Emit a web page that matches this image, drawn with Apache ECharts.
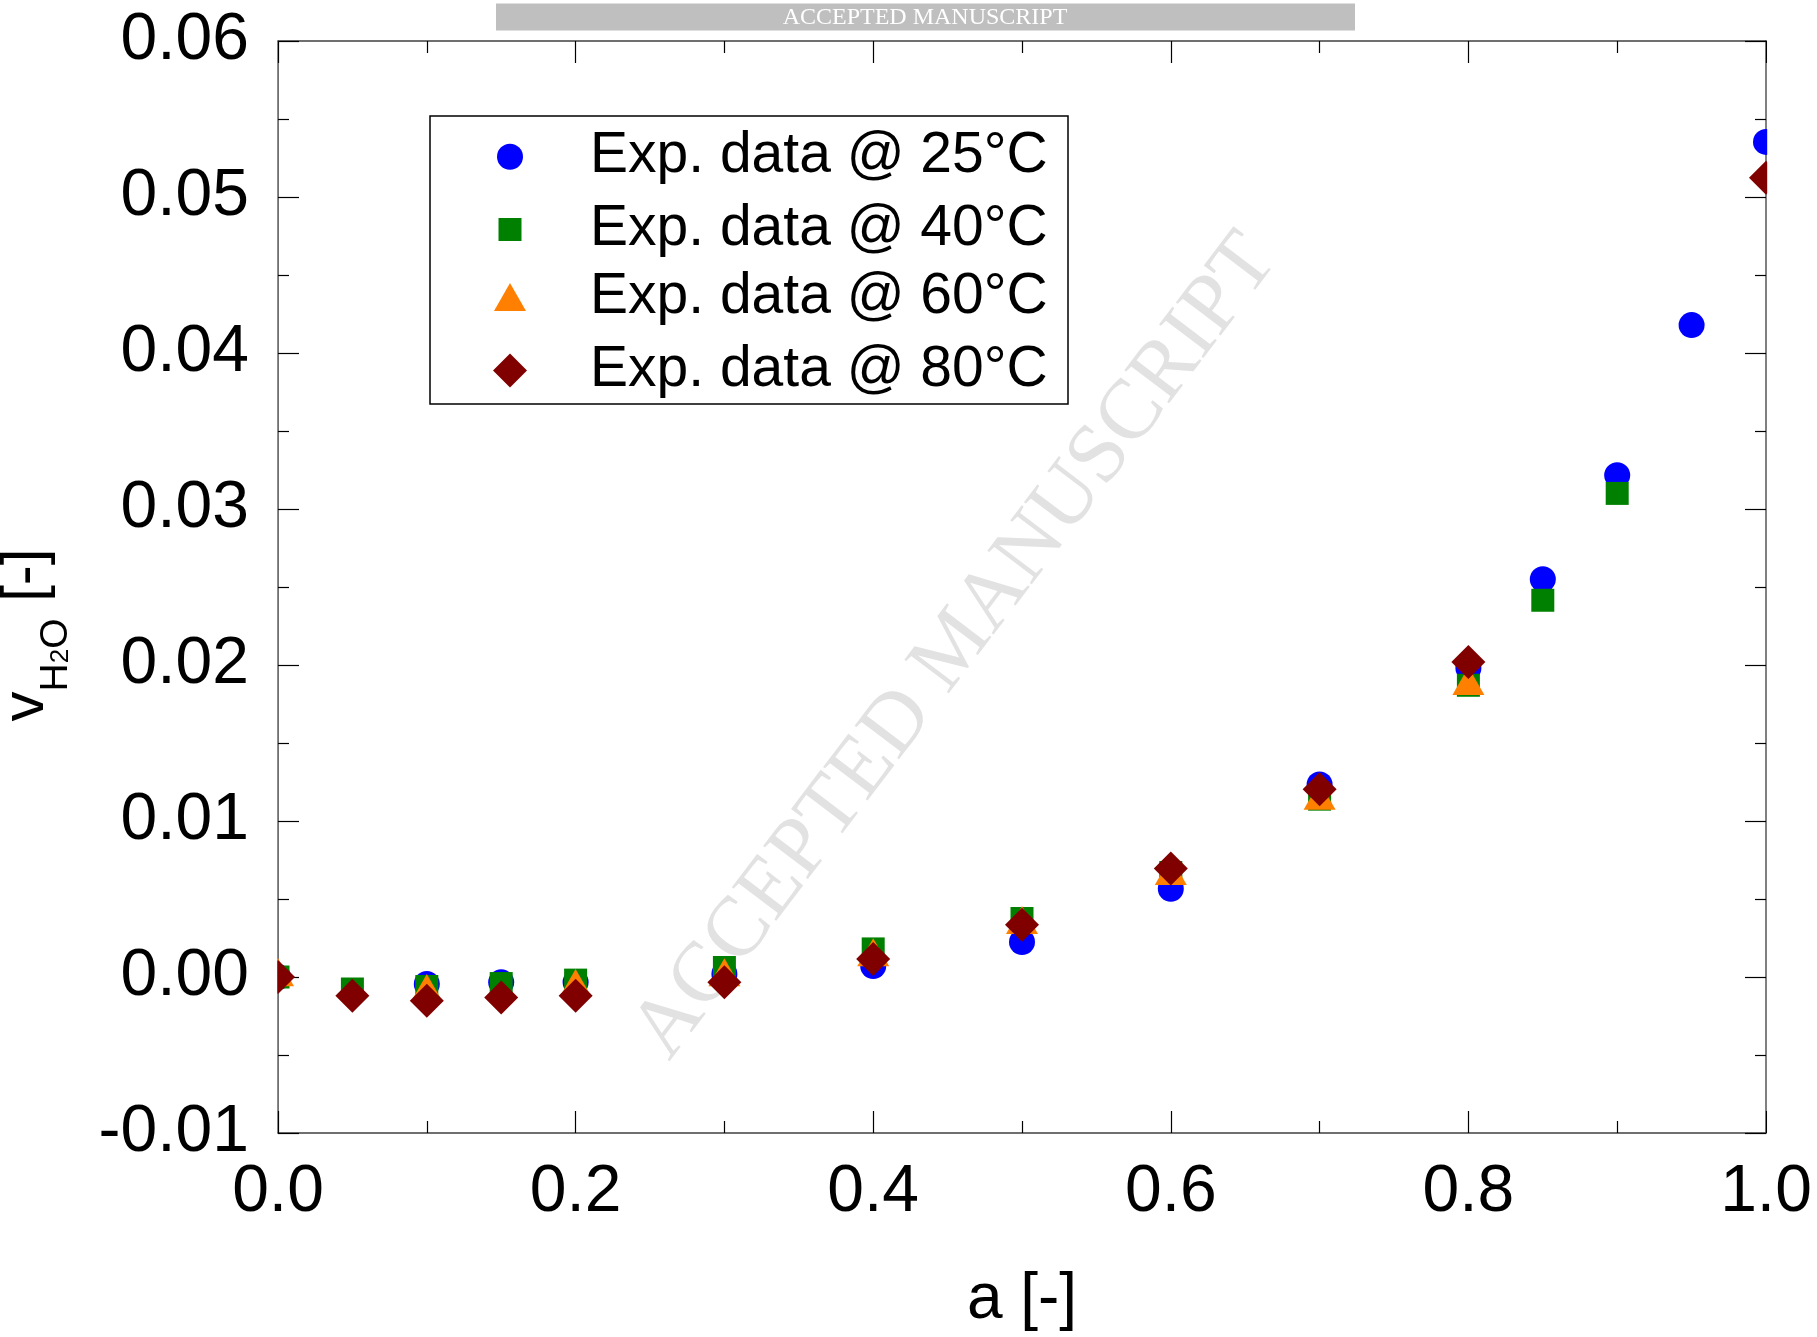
<!DOCTYPE html>
<html>
<head>
<meta charset="utf-8">
<script src="https://cdn.jsdelivr.net/npm/echarts@6/dist/echarts.min.js"></script>
<style>
html,body{margin:0;padding:0;background:#fff;}
#chart{width:1817px;height:1337px;}
</style>
</head>
<body>
<div id="chart"></div>
<script>
// ---- data ----
const seriesNames = ['Exp. data @ 25°C', 'Exp. data @ 40°C', 'Exp. data @ 60°C', 'Exp. data @ 80°C'];

const a25 = [0, 0.1, 0.15, 0.2, 0.3, 0.4, 0.5, 0.6, 0.7, 0.8, 0.85, 0.9, 0.95, 1.0];
const v25 = [0, -0.00045, -0.00034, -0.00034, 0.0002, 0.0007, 0.00224, 0.00566, 0.01234, 0.0198, 0.0255, 0.03216, 0.04179, 0.05353];

const a40 = [0, 0.05, 0.1, 0.15, 0.2, 0.3, 0.4, 0.5, 0.6, 0.7, 0.8, 0.85, 0.9];
const v40 = [0, -0.00077, -0.00061, -0.00042, -0.0002, 0.00061, 0.0018, 0.00375, 0.0067, 0.0114, 0.0187, 0.02415, 0.031];

const a60 = [0, 0.1, 0.2, 0.3, 0.4, 0.5, 0.6, 0.7, 0.8];
const v60 = [0, -0.001, -0.00068, 0.0, 0.00128, 0.00336, 0.00649, 0.01131, 0.01868];

const a80 = [0, 0.05, 0.1, 0.15, 0.2, 0.3, 0.4, 0.5, 0.6, 0.7, 0.8, 1.0];
const v80 = [0, -0.0012, -0.00152, -0.00132, -0.0012, -0.00034, 0.00115, 0.00335, 0.00696, 0.01204, 0.0202, 0.05123];

const xMin = 0, xMax = 1, xInterval = 0.2;
const yMin = -0.01, yMax = 0.06, yInterval = 0.01;
// --------------------------------------

function zip(xs, ys) { return xs.map((x, i) => [x, ys[i]]); }

const FONT = 'Liberation Sans';
const chart = echarts.init(document.getElementById('chart'), null, {renderer: 'canvas'});

const axisCommon = {
  type: 'value',
  splitLine: {show: false},
  minorSplitLine: {show: false},
  axisTick: {show: true, inside: true, length: 22, lineStyle: {color: '#000', width: 1.2}},
  minorTick: {show: true, splitNumber: 2, length: 12, lineStyle: {color: '#000', width: 1.2}},
  axisLine: {show: true, onZero: false, lineStyle: {color: '#404040', width: 1.5}}
};

function legendFor(i, icon, w, h, cy) {
  return {
    data: [{name: seriesNames[i], icon: icon}],
    left: 510 - w / 2,
    top: cy - 27.5,
    itemWidth: w,
    itemHeight: h,
    padding: 0,
    selectedMode: false,
    textStyle: {fontFamily: FONT, fontSize: 57, color: '#000', padding: [0, 0, 0, 75 - w / 2]}
  };
}

const option = {
  animation: false,
  backgroundColor: '#fff',
  grid: {left: 278, top: 41, width: 1488, height: 1093},
  xAxis: [
    Object.assign({}, axisCommon, {
      position: 'bottom', min: xMin, max: xMax, interval: xInterval,
      axisLabel: {fontFamily: FONT, fontSize: 66, color: '#000', margin: 27, formatter: v => v.toFixed(1)},
      name: 'a [-]', nameLocation: 'middle', nameGap: 135,
      nameTextStyle: {fontFamily: FONT, fontSize: 64, color: '#000'}
    }),
    Object.assign({}, axisCommon, {
      position: 'top', min: xMin, max: xMax, interval: xInterval,
      axisLabel: {show: false}
    })
  ],
  yAxis: [
    Object.assign({}, axisCommon, {
      position: 'left', min: yMin, max: yMax, interval: yInterval,
      axisTick: {show: true, inside: true, length: 21, lineStyle: {color: '#000', width: 1.2}},
      minorTick: {show: true, splitNumber: 2, length: 11, lineStyle: {color: '#000', width: 1.2}},
      axisLabel: {fontFamily: FONT, fontSize: 66, color: '#000', margin: 29, padding: [6, 0, 0, 0],
                  formatter: v => v.toFixed(2)}
    }),
    Object.assign({}, axisCommon, {
      position: 'right', min: yMin, max: yMax, interval: yInterval,
      axisTick: {show: true, inside: true, length: 21, lineStyle: {color: '#000', width: 1.2}},
      minorTick: {show: true, splitNumber: 2, length: 11, lineStyle: {color: '#000', width: 1.2}},
      axisLine: {show: true, onZero: false, lineStyle: {color: '#808080', width: 2}},
      axisLabel: {show: false}
    })
  ],
  legend: [
    legendFor(0, 'circle', 26, 26, 155.7),
    legendFor(1, 'rect', 23, 23, 228.5),
    legendFor(2, 'triangle', 32, 28, 296),
    legendFor(3, 'diamond', 34, 34, 369.5)
  ],
  series: [
    {type: 'scatter', name: seriesNames[0], data: zip(a25, v25), symbol: 'circle', symbolSize: 26,
     itemStyle: {color: '#0000ff', opacity: 1}, z: 2, clip: false},
    {type: 'scatter', name: seriesNames[1], data: zip(a40, v40), symbol: 'rect', symbolSize: 23,
     itemStyle: {color: '#008000', opacity: 1}, z: 3, clip: false},
    {type: 'scatter', name: seriesNames[2], data: zip(a60, v60), symbol: 'triangle', symbolSize: [32, 28],
     symbolOffset: [0, -4.7], itemStyle: {color: '#ff8000', opacity: 1}, z: 4, clip: false},
    {type: 'scatter', name: seriesNames[3], data: zip(a80, v80), symbol: 'diamond', symbolSize: [34, 34],
     itemStyle: {color: '#800000', opacity: 1}, z: 5, clip: false}
  ],
  graphic: [
    // watermark (diagonal)
    {type: 'text', x: 956, y: 647, rotation: 52.8 * Math.PI / 180, z: 1, silent: true,
     style: {text: 'ACCEPTED MANUSCRIPT', fontFamily: 'Liberation Serif', fontSize: 85, fill: '#e2e2e2',
             align: 'center', verticalAlign: 'middle'}},
    // top banner
    {type: 'rect', shape: {x: 496, y: 3.5, width: 859, height: 27}, style: {fill: '#bfbfbf'}, z: 1, silent: true},
    {type: 'text', x: 925, y: 17.5, z: 2, silent: true,
     style: {text: 'ACCEPTED MANUSCRIPT', fontFamily: 'Liberation Serif', fontSize: 24, fill: '#fff',
             align: 'center', verticalAlign: 'middle'}},
    // legend frame
    {type: 'rect', shape: {x: 430, y: 116, width: 638, height: 288},
     style: {fill: 'none', stroke: '#000', lineWidth: 1.5}, z: 10, silent: true},
    // masks to clip markers at the plot edges
    {type: 'rect', shape: {x: 252, y: 30, width: 25.2, height: 1110}, style: {fill: '#fff'}, z: 100, silent: true},
    {type: 'rect', shape: {x: 1767.2, y: 30, width: 40, height: 1110}, style: {fill: '#fff'}, z: 100, silent: true},
    // y axis title
    {type: 'text', x: 26, y: 635, rotation: Math.PI / 2, z: 10, silent: true,
     style: {
       text: '{m|v}{s|H}{t|2}{s|O}{m| [-]}',
       align: 'center', verticalAlign: 'middle', fill: '#000',
       rich: {
         m: {fontFamily: FONT, fontSize: 60, lineHeight: 60, fill: '#000'},
         s: {fontFamily: FONT, fontSize: 39, lineHeight: 39, padding: [60, 0, 0, 0], fill: '#000'},
         t: {fontFamily: FONT, fontSize: 26, lineHeight: 26, padding: [69, 0, 0, 0], fill: '#000'}
       }
     }}
  ]
};

chart.setOption(option);
</script>
</body>
</html>
